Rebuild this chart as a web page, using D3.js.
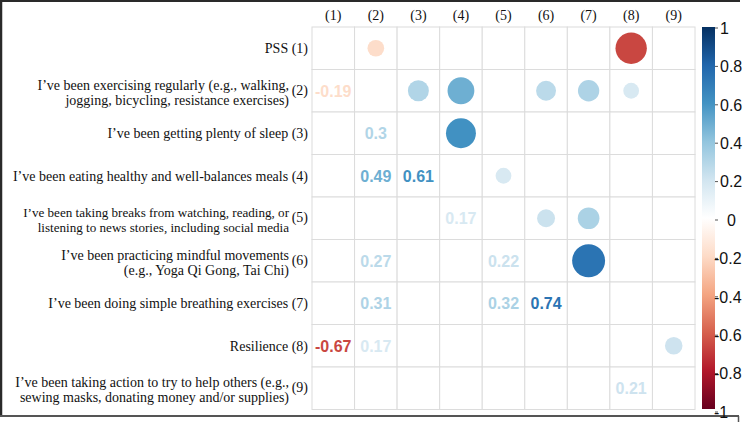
<!DOCTYPE html>
<html><head><meta charset="utf-8">
<script src="https://cdn.jsdelivr.net/npm/d3@7"></script>
<style>body{margin:0;background:#fff}svg{display:block}</style>
</head><body>
<svg id="c" width="747" height="422"></svg>
<script>
// ---- data ----
const rowLabels = [
  ["PSS"],
  ["I\u2019ve been exercising regularly (e.g., walking,", "jogging, bicycling, resistance exercises)"],
  ["I\u2019ve been getting plenty of sleep"],
  ["I\u2019ve been eating healthy and well-balances meals"],
  ["I\u2019ve been taking breaks from watching, reading, or", "listening to news stories, including social media"],
  ["I\u2019ve been practicing mindful movements", "(e.g., Yoga Qi Gong, Tai Chi)"],
  ["I\u2019ve been doing simple breathing exercises"],
  ["Resilience"],
  ["I\u2019ve been taking action to try to help others (e.g.,", "sewing masks, donating money and/or supplies)"]
];
const colLabels = ["(1)","(2)","(3)","(4)","(5)","(6)","(7)","(8)","(9)"];
// significant correlations (upper triangle: row < col)
const pairRow = [1, 1, 2, 2, 2, 2, 2, 3, 4, 5, 5, 6, 8];
const pairCol = [2, 8, 3, 4, 6, 7, 8, 4, 5, 6, 7, 7, 9];
const pairR   = [-0.19, -0.67, 0.3, 0.49, 0.27, 0.31, 0.17, 0.61, 0.17, 0.22, 0.32, 0.74, 0.21];
const legendTicks = [1, 0.8, 0.6, 0.4, 0.2, 0, -0.2, -0.4, -0.6, -0.8, -1];
const paletteCols = ["#67001F","#B2182B","#D6604D","#F4A582","#FDDBC7","#FFFFFF","#D1E5F0","#92C5DE","#4393C3","#2166AC","#053061"];

// ---- scales ----
const svg = d3.select("#c");
const n = 9;
const x = d3.scaleBand().domain(d3.range(1, n + 1)).range([312, 695]);
const y = d3.scaleBand().domain(d3.range(1, n + 1)).range([27, 409.5]);
const color = d3.scaleLinear()
  .domain(paletteCols.map((_, i) => -1 + 2 * i / (paletteCols.length - 1)))
  .range(paletteCols).interpolate(d3.interpolateRgb);
const rScale = v => 0.9 * Math.sqrt(Math.abs(v)) / 2 * x.bandwidth();

// frame
svg.append("line").attr("x1", 1).attr("x2", 1).attr("y1", 0).attr("y2", 417).attr("stroke", "#2a2a2a").attr("stroke-width", 2.5);
svg.append("line").attr("x1", 0).attr("x2", 740).attr("y1", 1).attr("y2", 1).attr("stroke", "#2a2a2a").attr("stroke-width", 2);
svg.append("line").attr("x1", 0).attr("x2", 739).attr("y1", 416).attr("y2", 416).attr("stroke", "#555").attr("stroke-width", 2);
svg.append("line").attr("x1", 738.5).attr("x2", 738.5).attr("y1", 416).attr("y2", 422).attr("stroke", "#555").attr("stroke-width", 1.5);

// grid
const g = svg.append("g");
const cells = [];
for (let i = 1; i <= n; i++) for (let j = 1; j <= n; j++) cells.push([i, j]);
g.selectAll("rect.cell").data(cells).join("rect").attr("class", "cell")
  .attr("x", d => x(d[1])).attr("y", d => y(d[0]))
  .attr("width", x.bandwidth()).attr("height", y.bandwidth())
  .attr("fill", "#fff").attr("stroke", "#dcdcdc").attr("stroke-width", 1);

const pairs = pairR.map((r, k) => ({ i: pairRow[k], j: pairCol[k], r }));

// circles (upper)
g.selectAll("circle").data(pairs).join("circle")
  .attr("cx", d => x(d.j) + x.bandwidth() / 2)
  .attr("cy", d => y(d.i) + y.bandwidth() / 2)
  .attr("r", d => rScale(d.r))
  .attr("fill", d => color(d.r));

// numbers (lower)
g.selectAll("text.num").data(pairs).join("text").attr("class", "num")
  .attr("x", d => x(d.i) + x.bandwidth() / 2)
  .attr("y", d => y(d.j) + y.bandwidth() / 2)
  .attr("dy", "0.36em").attr("text-anchor", "middle")
  .attr("font-family", "Liberation Sans, Arial, sans-serif").attr("font-weight", "bold")
  .attr("font-size", 16).attr("fill", d => color(d.r))
  .text(d => String(d.r));

// column labels
svg.selectAll("text.col").data(colLabels).join("text").attr("class", "col")
  .attr("x", (d, k) => x(k + 1) + x.bandwidth() / 2).attr("y", 15).attr("dy", "0.35em")
  .attr("text-anchor", "middle").attr("font-family", "Liberation Serif, Times New Roman, serif")
  .attr("font-size", 14).attr("fill", "#111").text(d => d);

// row labels
const rl = svg.selectAll("g.rl").data(rowLabels).join("g").attr("class", "rl")
  .attr("transform", (d, k) => `translate(0,${y(k + 1) + y.bandwidth() / 2})`);
rl.append("text").attr("x", 308).attr("y", (d) => d.length === 1 ? 0 : -1).attr("dy", "0.35em").attr("text-anchor", "end")
  .attr("font-family", "Liberation Serif, Times New Roman, serif").attr("font-size", 14).attr("fill", "#111")
  .text((d, k) => d.length === 1 ? d[0] + " (" + (k + 1) + ")" : "(" + (k + 1) + ")");
rl.each(function (d, k) {
  if (d.length > 1) {
    d3.select(this).selectAll("text.ln").data(d).join("text").attr("class", "ln")
      .attr("x", 289).attr("y", (t, m) => (m - 0.5) * 15 + 1.5).attr("dy", "0.35em")
      .attr("text-anchor", "end").attr("font-family", "Liberation Serif, Times New Roman, serif")
      .attr("font-size", k === 4 ? 13.1 : 14).attr("fill", "#111").text(t => t);
  }
});

// color legend
const defs = svg.append("defs");
const grad = defs.append("linearGradient").attr("id", "lg").attr("x1", 0).attr("x2", 0).attr("y1", 1).attr("y2", 0);
grad.selectAll("stop").data(paletteCols).join("stop")
  .attr("offset", (d, i) => i / (paletteCols.length - 1)).attr("stop-color", d => d);
svg.append("rect").attr("x", 702).attr("y", 27).attr("width", 13).attr("height", 382).attr("fill", "url(#lg)");
const ly = d3.scaleLinear().domain([1, -1]).range([28, 412]);
svg.selectAll("line.lt").data(legendTicks).join("line").attr("class", "lt")
  .attr("x1", 715).attr("x2", 718).attr("y1", d => ly(d)).attr("y2", d => ly(d)).attr("stroke", "#555");
svg.selectAll("text.lt").data(legendTicks).join("text").attr("class", "lt")
  .attr("x", d => d < 0 ? 714 : (d === 0 ? 727 : 720)).attr("y", d => ly(d)).attr("dy", "0.36em")
  .attr("font-family", "Liberation Sans, Arial, sans-serif").attr("font-size", 16).attr("fill", "#111")
  .text(d => d < 0 ? "-" + String(Math.abs(d)) : String(d));
</script>
</body></html>
